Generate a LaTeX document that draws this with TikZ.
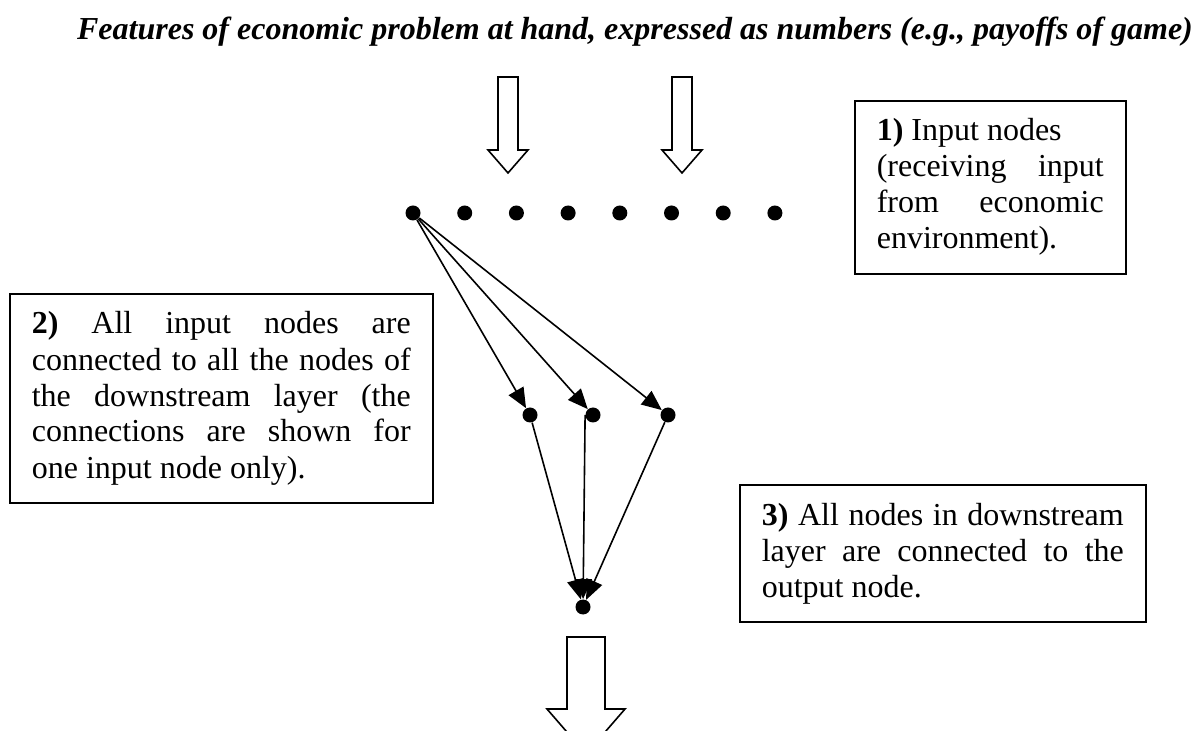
\documentclass[tikz,border=0pt]{standalone}
\usepackage{fontspec}
\setmainfont{Liberation Serif}
\usetikzlibrary{arrows.meta,positioning}
\tikzset{dot/.style={circle,fill,inner sep=0pt,minimum size=7.5pt},
  arr/.style={-{Triangle[length=10pt,width=8.5pt]},line width=0.8pt},
  note/.style={draw,line width=0.8pt,inner xsep=11pt,inner ysep=9pt,align=justify,font=\fontsize{16}{18}\selectfont},
  blk/.style={draw,fill=white,line width=0.8pt,line join=miter}}

\begin{document}
\begin{tikzpicture}[x=0.5pt,y=-0.5pt]
\useasboundingbox(0,0)rectangle(1199,731);
\node[anchor=base,font=\fontsize{16}{18}\selectfont\bfseries\itshape](title)at(635,40){Features of economic problem at hand, expressed as numbers (e.g., payoffs of game)};
% input arrows
\foreach\c in{508,682}\draw[blk](\c-10,77)--(\c+10,77)--(\c+10,150)--(\c+20,150)--(\c,173)--(\c-20,150)--(\c-10,150)--cycle;
% layers
\foreach\i in{1,...,8}\node[dot](i\i)at({413+51.7*(\i-1)},213){};
\node[dot](h1)at(530,415){};\node[dot](h2)at(593,415){};\node[dot](h3)at(668,415){};
\node[dot](o)at(583,607){};
\foreach\h in{h1,h2,h3}\draw[arr](i1)--(\h);
\draw[arr](h1)--(o);\draw[arr](h2.west)--(o);\draw[arr](h3)--(o);
% output arrow
\draw[blk](567,637)--(605,637)--(605,709)--(625,709)--(586,754)--(547,709)--(567,709)--cycle;
% notes
\node[note,text width=113.5pt,anchor=north west](n1)at(854,100){\textbf{1)} Input nodes\\(receiving input\linebreak from economic\linebreak environment).};
\node[note,text width=189.5pt,anchor=north west](n2)at(9,293){\textbf{2)} All input nodes are\linebreak connected to all the nodes of\linebreak the downstream layer (the\linebreak connections are shown for\linebreak one input node only).};
\node[note,text width=181pt,anchor=north west](n3)at(739,484){\textbf{3)} All nodes in downstream\linebreak layer are connected to the\linebreak output node.};
\end{tikzpicture}
\end{document}
